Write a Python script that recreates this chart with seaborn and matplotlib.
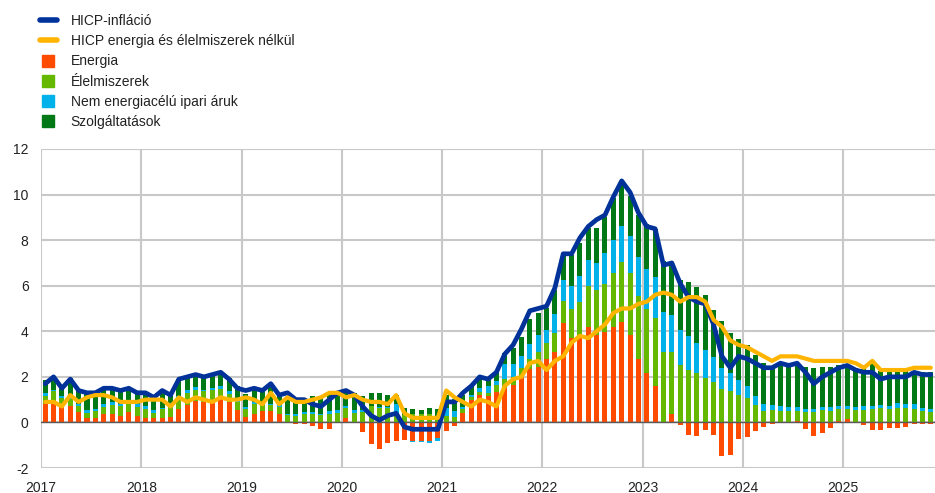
import numpy as np
import pandas as pd
import matplotlib
matplotlib.use("Agg")
import matplotlib.pyplot as plt
from matplotlib.lines import Line2D
import seaborn as sns

# monthly data, Jan 2017 - Nov 2025 (percentage points / %)
years = [str(y) for y in range(2017, 2026)]

hicp = [1.7, 2.0, 1.5, 1.9, 1.4, 1.3, 1.3, 1.5, 1.5, 1.4, 1.5, 1.3,
        1.3, 1.1, 1.4, 1.2, 1.9, 2.0, 2.1, 2.0, 2.1, 2.2, 1.9, 1.5,
        1.4, 1.5, 1.4, 1.7, 1.2, 1.3, 1.0, 1.0, 0.8, 0.7, 1.0, 1.3,
        1.4, 1.2, 0.7, 0.3, 0.1, 0.3, 0.4, -0.2, -0.3, -0.3, -0.3, -0.3,
        0.9, 0.9, 1.3, 1.6, 2.0, 1.9, 2.2, 3.0, 3.4, 4.1, 4.9, 5.0,
        5.1, 5.9, 7.4, 7.4, 8.1, 8.6, 8.9, 9.1, 9.9, 10.6, 10.1, 9.2,
        8.6, 8.5, 6.9, 7.0, 6.1, 5.5, 5.3, 5.2, 4.3, 2.9, 2.4, 2.9,
        2.8, 2.6, 2.4, 2.4, 2.6, 2.5, 2.6, 2.2, 1.7, 2.0, 2.2, 2.4,
        2.5, 2.3, 2.2, 2.2, 1.9, 2.0, 2.0, 2.0, 2.2, 2.1, 2.1]

core = [0.9, 0.9, 0.7, 1.2, 0.9, 1.1, 1.2, 1.2, 1.1, 0.9, 0.9, 0.9,
        1.0, 1.0, 1.0, 0.7, 1.1, 0.9, 1.1, 1.0, 0.9, 1.1, 1.0, 1.0,
        1.1, 1.0, 0.8, 1.3, 0.8, 1.1, 0.9, 0.9, 1.0, 1.1, 1.3, 1.3,
        1.1, 1.2, 1.0, 0.9, 0.9, 0.8, 1.2, 0.4, 0.2, 0.2, 0.2, 0.2,
        1.4, 1.1, 0.9, 0.7, 1.0, 0.9, 0.7, 1.6, 1.9, 2.0, 2.6, 2.7,
        2.3, 2.7, 2.9, 3.5, 3.8, 3.7, 4.0, 4.3, 4.8, 5.0, 5.0, 5.2,
        5.3, 5.6, 5.7, 5.6, 5.3, 5.5, 5.5, 5.3, 4.5, 4.2, 3.6, 3.4,
        3.3, 3.1, 2.9, 2.7, 2.9, 2.9, 2.9, 2.8, 2.7, 2.7, 2.7, 2.7,
        2.7, 2.6, 2.4, 2.7, 2.3, 2.3, 2.3, 2.3, 2.4, 2.4, 2.4]

energy = [0.79, 0.90, 0.72, 0.74, 0.44, 0.18, 0.21, 0.39, 0.38, 0.29, 0.46, 0.28,
          0.21, 0.20, 0.19, 0.25, 0.59, 0.78, 0.92, 0.89, 0.92, 1.04, 0.88, 0.53,
          0.26, 0.35, 0.51, 0.51, 0.37, 0.02, -0.05, -0.06, -0.17, -0.30, -0.31, 0.02,
          0.19, -0.03, -0.44, -0.95, -1.17, -0.91, -0.82, -0.76, -0.80, -0.81, -0.81, -0.68,
          -0.39, -0.16, 0.40, 0.97, 1.22, 1.17, 1.33, 1.50, 1.64, 2.00, 2.35, 2.45,
          2.80, 3.10, 4.35, 3.70, 3.80, 4.20, 3.85, 3.95, 4.20, 4.40, 3.85, 2.78,
          2.15, 1.60, -0.03, 0.37, -0.10, -0.56, -0.60, -0.34, -0.56, -1.48, -1.43, -0.73,
          -0.63, -0.38, -0.19, -0.09, 0.02, -0.02, 0.05, -0.29, -0.60, -0.45, -0.23, 0.08,
          0.13, 0.01, -0.12, -0.34, -0.34, -0.23, -0.23, -0.19, -0.06, -0.09, -0.05]

food = [0.35, 0.49, 0.35, 0.29, 0.29, 0.25, 0.27, 0.27, 0.37, 0.43, 0.43, 0.41,
        0.37, 0.20, 0.41, 0.51, 0.49, 0.53, 0.49, 0.47, 0.51, 0.43, 0.37, 0.35,
        0.35, 0.45, 0.29, 0.27, 0.31, 0.31, 0.27, 0.37, 0.39, 0.31, 0.37, 0.39,
        0.43, 0.41, 0.47, 0.70, 0.62, 0.62, 0.39, 0.33, 0.35, 0.37, 0.37, 0.25,
        0.27, 0.25, 0.21, 0.14, 0.12, 0.10, 0.31, 0.39, 0.37, 0.37, 0.43, 0.62,
        0.70, 0.84, 1.00, 1.26, 1.50, 1.78, 1.96, 2.12, 2.36, 2.62, 2.72, 2.76,
        2.82, 3.00, 3.10, 2.70, 2.50, 2.32, 2.16, 1.94, 1.76, 1.48, 1.38, 1.22,
        1.08, 0.75, 0.50, 0.54, 0.50, 0.48, 0.44, 0.46, 0.46, 0.56, 0.52, 0.50,
        0.44, 0.52, 0.56, 0.58, 0.62, 0.60, 0.64, 0.62, 0.58, 0.48, 0.46]

neig = [0.13, 0.05, 0.08, 0.08, 0.08, 0.11, 0.13, 0.13, 0.13, 0.11, 0.11, 0.13,
        0.13, 0.16, 0.05, 0.08, 0.08, 0.11, 0.13, 0.08, 0.08, 0.11, 0.11, 0.11,
        0.08, 0.11, 0.05, 0.05, 0.08, 0.05, 0.11, 0.08, 0.08, 0.08, 0.11, 0.13,
        0.08, 0.13, 0.08, 0.03, 0.05, 0.05, 0.42, -0.03, -0.08, -0.03, -0.08, -0.13,
        0.37, 0.26, 0.08, 0.11, 0.19, 0.32, 0.19, 0.69, 0.56, 0.53, 0.64, 0.77,
        0.56, 0.82, 0.90, 1.01, 1.11, 1.14, 1.19, 1.35, 1.46, 1.62, 1.62, 1.70,
        1.78, 1.80, 1.75, 1.64, 1.54, 1.46, 1.33, 1.25, 1.09, 0.93, 0.77, 0.66,
        0.53, 0.42, 0.29, 0.24, 0.19, 0.19, 0.19, 0.11, 0.11, 0.13, 0.16, 0.13,
        0.13, 0.16, 0.16, 0.16, 0.16, 0.13, 0.21, 0.21, 0.21, 0.16, 0.13]

services = [0.60, 0.60, 0.46, 0.83, 0.60, 0.74, 0.74, 0.74, 0.69, 0.55, 0.55, 0.55,
            0.60, 0.55, 0.69, 0.46, 0.74, 0.60, 0.64, 0.60, 0.60, 0.69, 0.60, 0.60,
            0.55, 0.64, 0.51, 0.87, 0.46, 0.74, 0.55, 0.60, 0.69, 0.69, 0.87, 0.83,
            0.69, 0.74, 0.60, 0.55, 0.60, 0.55, 0.41, 0.32, 0.23, 0.18, 0.28, 0.32,
            0.57, 0.53, 0.53, 0.37, 0.45, 0.29, 0.37, 0.45, 0.70, 0.86, 1.11, 0.98,
            0.97, 1.05, 1.13, 1.39, 1.47, 1.43, 1.55, 1.60, 1.81, 1.81, 1.76, 1.85,
            1.94, 2.11, 2.24, 2.29, 2.20, 2.38, 2.46, 2.42, 2.07, 2.02, 1.76, 1.76,
            1.80, 1.80, 1.80, 1.67, 1.85, 1.85, 1.80, 1.85, 1.80, 1.76, 1.76, 1.80,
            1.79, 1.70, 1.61, 1.84, 1.47, 1.52, 1.47, 1.43, 1.47, 1.56, 1.61]

components = [
    ("Energia", energy, "#ff4b00"),
    ("Élelmiszerek", food, "#65b800"),
    ("Nem energiacélú ipari áruk", neig, "#00b1ea"),
    ("Szolgáltatások", services, "#007816"),
]

n = len(hicp)
xpos = np.arange(n) + 0.5
df = pd.DataFrame({"x": xpos, "hicp": hicp, "core": core})

sns.set_theme(style="white")
plt.rcParams["font.family"] = ["Liberation Sans", "DejaVu Sans"]
plt.rcParams["axes.unicode_minus"] = False

fig = plt.figure(figsize=(9.35, 4.93), dpi=100)
ax = fig.add_axes([0.0439, 0.0507, 0.9561, 0.6471])

# stacked bars: positives stack up, negatives stack down
pos_base = np.zeros(n)
neg_base = np.zeros(n)
for name, vals, col in components:
    v = np.array(vals)
    base = np.where(v >= 0, pos_base, neg_base)
    ax.bar(xpos, v, bottom=base, width=0.6, color=col, linewidth=0, zorder=2)
    pos_base += np.where(v >= 0, v, 0)
    neg_base += np.where(v < 0, v, 0)

sns.lineplot(data=df, x="x", y="hicp", ax=ax, color="#003299", lw=3.4, zorder=4)
sns.lineplot(data=df, x="x", y="core", ax=ax, color="#ffb400", lw=3.0, zorder=5)

ax.axhline(0, color="#5a5a5a", lw=1.0, zorder=3)

ax.set_xlim(0, 107)
ax.set_ylim(-2, 12)
ax.set_yticks(range(-2, 13, 2))
ax.set_xticks(np.arange(len(years)) * 12)
ax.set_xticklabels(years)
ax.set_xlabel("")
ax.set_ylabel("")
ax.grid(True, color="#c8c8c8", lw=1.5, zorder=0)
ax.set_axisbelow(True)
for s in ax.spines.values():
    s.set_visible(False)
ax.tick_params(axis="both", length=0, labelsize=10, colors="#222222")
ax.tick_params(axis="y", pad=9)
ax.tick_params(axis="x", pad=9)

handles = [
    Line2D([], [], color="#003299", lw=4),
    Line2D([], [], color="#ffb400", lw=4),
] + [Line2D([], [], marker="s", linestyle="none", markersize=9, color=c)
     for _, _, c in components]
labels = ["HICP-infláció", "HICP energia és élelmiszerek nélkül"] + [c[0] for c in components]
fig.legend(handles, labels, loc="upper left", bbox_to_anchor=(0.037, 0.983),
           frameon=False, fontsize=10, handlelength=1.2, handletextpad=1.0,
           labelspacing=0.45, borderaxespad=0, labelcolor="#222222")

fig.savefig("out.png", dpi=100)
